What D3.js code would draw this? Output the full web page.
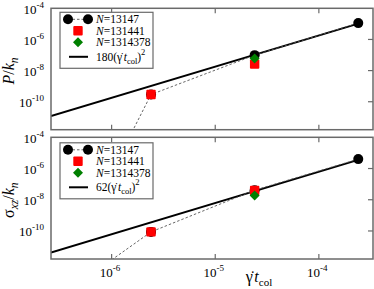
<!DOCTYPE html>
<html><head><meta charset="utf-8">
<script src="https://cdn.jsdelivr.net/npm/d3@7"></script>
<style>
html,body{margin:0;padding:0;background:#fff;}
svg{display:block;}
</style></head>
<body><svg id="c" width="374" height="289"></svg>
<script>
// ---- data ----
const xTicks = [1e-6, 1e-5, 1e-4];
const xTickExp = ["-6", "-5", "-4"];
const yTicks = [1e-4, 1e-6, 1e-8, 1e-10];
const yTickExp = ["-4", "-6", "-8", "-10"];
const legendNames = ["13147", "131441", "1314378"];
const rate13147 = [1.0e-6, 2.4e-6, 2.4e-5, 2.4e-4];
const p13147 = [3e-15, 2.9e-10, 9.8e-8, 1.12e-5];
const s13147 = [1.4e-12, 8.7e-11, 4.1e-8, 4.0e-6];
const rate131441 = [2.4e-6, 2.4e-5];
const p131441 = [2.9e-10, 2.6e-8];
const s131441 = [8.7e-11, 3.9e-8];
const rate1314378 = [2.4e-5];
const p1314378 = [6.0e-8];
const s1314378 = [1.86e-8];
const fitCoef = [180, 62];
const fitRange = [2.6e-7, 2.4e-4];

// ---- layout ----
const FF = "Liberation Serif";
const svg = d3.select("#c").attr("font-family", FF);
const L = 51, R = 373;
const panels = [
  {top: 8.3, bot: 129.7, y: [p13147, p131441, p1314378], coef: fitCoef[0], title: "P"},
  {top: 137.3, bot: 259, y: [s13147, s131441, s1314378], coef: fitCoef[1], title: "S"}
];
const x = d3.scaleLog().domain([2.6e-7, 3.33e-4]).range([L, R]);
const frameCol = "#6a6a6a";

panels.forEach((P, pi) => {
  const y = d3.scaleLog().domain([1.6e-12, 1e-4]).range([P.bot, P.top]);
  const g = svg.append("g");
  const cid = "clip" + pi;
  svg.append("clipPath").attr("id", cid).append("rect")
    .attr("x", L).attr("y", P.top).attr("width", R - L).attr("height", P.bot - P.top);
  const pg = g.append("g").attr("clip-path", `url(#${cid})`);

  const fit = fitRange.map(v => [v, P.coef * v * v]);
  pg.append("path").attr("d", d3.line().x(d => x(d[0])).y(d => y(d[1]))(fit))
    .attr("stroke", "#000").attr("stroke-width", 2).attr("fill", "none");

  const pts = rate13147.map((v, i) => [v, P.y[0][i]]);
  pg.append("path").attr("d", d3.line().x(d => x(d[0])).y(d => y(d[1]))(pts))
    .attr("stroke", "#555").attr("stroke-width", 0.9).attr("stroke-dasharray", "2.5,2").attr("fill", "none");

  pg.selectAll(null).data(pts.slice(1)).join("circle")
    .attr("cx", d => x(d[0])).attr("cy", d => y(d[1])).attr("r", 5).attr("fill", "#000");
  const red = rate131441.map((v, i) => [v, P.y[1][i]]);
  pg.selectAll(null).data(red).join("rect")
    .attr("x", d => x(d[0]) - 4.7).attr("y", d => y(d[1]) - 4.7).attr("width", 9.4).attr("height", 9.4)
    .attr("rx", 1).attr("fill", "#ff0000");
  const grn = rate1314378.map((v, i) => [v, P.y[2][i]]);
  pg.selectAll(null).data(grn).join("path")
    .attr("d", d => { const cx = x(d[0]), cy = y(d[1]), s = 5; return `M${cx},${cy-s}L${cx+s},${cy}L${cx},${cy+s}L${cx-s},${cy}Z`; })
    .attr("fill", "#008000");

  g.append("rect").attr("x", L).attr("y", P.top).attr("width", R - L).attr("height", P.bot - P.top)
    .attr("fill", "none").attr("stroke", frameCol).attr("stroke-width", 1.5);
  xTicks.forEach(t => {
    g.append("line").attr("x1", x(t)).attr("x2", x(t)).attr("y1", P.bot).attr("y2", P.bot - 5).attr("stroke", frameCol).attr("stroke-width", 1.2);
    g.append("line").attr("x1", x(t)).attr("x2", x(t)).attr("y1", P.top).attr("y2", P.top + 5).attr("stroke", frameCol).attr("stroke-width", 1.2);
  });
  yTicks.forEach((t, i) => {
    if (i > 0) g.append("line").attr("x1", R).attr("x2", R - 5).attr("y1", y(t)).attr("y2", y(t)).attr("stroke", frameCol).attr("stroke-width", 1.2);
    const tx = g.append("text").attr("x", 44).attr("y", y(t) + 5.5).attr("text-anchor", "end").attr("font-size", 13).attr("fill", "#000");
    tx.append("tspan").text("10");
    tx.append("tspan").attr("dy", -6).attr("font-size", 9).text(yTickExp[i]);
  });

  // legend
  const lx = 60, ly = P.top + 4 + (pi ? 1.5 : 0);
  const lg = g.append("g");
  lg.append("rect").attr("x", lx).attr("y", ly).attr("width", 93).attr("height", 56)
    .attr("fill", "#fff").attr("stroke", frameCol).attr("stroke-width", 1.2);
  const rows = [ly + 7, ly + 18.5, ly + 30, ly + 44.5];
  lg.append("line").attr("x1", 68).attr("x2", 88).attr("y1", rows[0]).attr("y2", rows[0])
    .attr("stroke", "#555").attr("stroke-width", 0.9).attr("stroke-dasharray", "2.5,2");
  [68, 88].forEach(cx => lg.append("circle").attr("cx", cx).attr("cy", rows[0]).attr("r", 5).attr("fill", "#000"));
  lg.append("rect").attr("x", 78 - 4.7).attr("y", rows[1] - 4.7).attr("width", 9.4).attr("height", 9.4).attr("rx", 1).attr("fill", "#ff0000");
  lg.append("path").attr("d", `M78,${rows[2]-5}L83,${rows[2]}L78,${rows[2]+5}L73,${rows[2]}Z`).attr("fill", "#008000");
  lg.append("line").attr("x1", 69).attr("x2", 88).attr("y1", rows[3]).attr("y2", rows[3]).attr("stroke", "#000").attr("stroke-width", 2);
  legendNames.forEach((n, i) => {
    const t = lg.append("text").attr("x", 96).attr("y", rows[i] + 4).attr("font-size", 11.5);
    t.append("tspan").attr("font-style", "italic").text("N");
    t.append("tspan").text("=" + n);
  });
  const ft = lg.append("text").attr("x", 96).attr("y", rows[3] + 4).attr("font-size", 11.5);
  ft.append("tspan").text(P.coef + "(\u03B3\u0307");
  ft.append("tspan").attr("font-style", "italic").attr("dx", 1.5).text("t");
  ft.append("tspan").attr("font-size", 8.5).attr("dy", 3).text("col");
  ft.append("tspan").attr("dy", -3).text(")");
  ft.append("tspan").attr("font-size", 8.5).attr("dy", -6).text("2");

  const cy = (P.top + P.bot) / 2 + 2;
  const yt = svg.append("text").attr("transform", `translate(14,${cy}) rotate(-90)`).attr("text-anchor", "middle").attr("font-size", 16);
  if (P.title === "P") {
    yt.append("tspan").attr("font-style", "italic").text("P");
    yt.append("tspan").text("/");
    yt.append("tspan").attr("font-style", "italic").text("k");
    yt.append("tspan").attr("font-style", "italic").attr("font-size", 11.5).attr("dy", 4).text("n");
  } else {
    yt.append("tspan").text("\u03C3");
    yt.append("tspan").attr("font-style", "italic").attr("font-size", 11.5).attr("dy", 4).text("xz");
    yt.append("tspan").attr("dy", -4).text("/");
    yt.append("tspan").attr("font-style", "italic").text("k");
    yt.append("tspan").attr("font-style", "italic").attr("font-size", 11.5).attr("dy", 4).text("n");
  }
});

xTicks.forEach((t, i) => {
  const tx = svg.append("text").attr("x", x(t) - 1.5).attr("y", 277).attr("text-anchor", "middle").attr("font-size", 13);
  tx.append("tspan").text("10");
  tx.append("tspan").attr("dy", -6).attr("font-size", 9).text(xTickExp[i]);
});
const xt = svg.append("text").attr("x", 259).attr("y", 282).attr("text-anchor", "middle").attr("font-size", 16);
xt.append("tspan").text("\u03B3\u0307");
xt.append("tspan").attr("font-style", "italic").attr("dx", 1.5).text("t");
xt.append("tspan").attr("font-size", 11).attr("dy", 4).text("col");
</script></body></html>
